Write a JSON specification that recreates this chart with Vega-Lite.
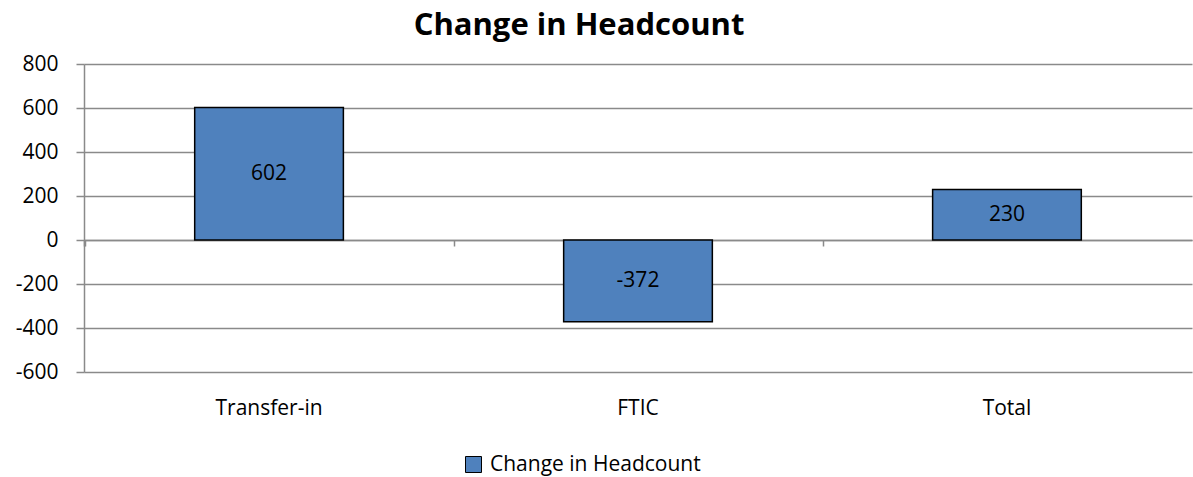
{
  "$schema": "https://vega.github.io/schema/vega-lite/v6.json",
  "width": 1108,
  "height": 308,
  "autosize": "none",
  "padding": {"left": 84, "top": 64, "right": 1, "bottom": 105},
  "background": "white",
  "config": {"view": {"stroke": null}, "font": "Open Sans"},
  "title": {"text": "Change in Headcount", "fontSize": 31, "fontWeight": "bold", "font": "Open Sans", "color": "black", "dx": -59, "offset": 11, "anchor": "middle"},
  "data": {"values": [
    {"category": "Transfer-in", "value": 602, "series": "Change in Headcount"},
    {"category": "FTIC", "value": -372, "series": "Change in Headcount"},
    {"category": "Total", "value": 230, "series": "Change in Headcount"}
  ]},
  "layer": [
    {
      "mark": {"type": "bar", "stroke": "black", "strokeWidth": 1.5},
      "encoding": {
        "x": {"field": "category", "type": "nominal", "sort": null,
          "scale": {"paddingInner": 0.597, "paddingOuter": 0.3},
          "axis": {"orient": "bottom", "title": null, "labelAngle": 0, "domain": false, "ticks": false, "grid": false, "labelPadding": 25, "labelFontSize": 21, "labelColor": "black", "labelFont": "Open Sans"}},
        "y": {"field": "value", "type": "quantitative",
          "scale": {"domain": [-600, 800], "nice": false, "zero": false},
          "axis": {"values": [-600, -400, -200, 0, 200, 400, 600, 800], "title": null, "grid": true, "gridColor": "#8a8a8a", "gridWidth": 1.5, "domainColor": "#8a8a8a", "domainWidth": 1.5, "tickColor": "#8a8a8a", "tickWidth": 1.5, "tickSize": 8, "labelPadding": 18, "labelFontSize": 21, "labelColor": "black", "labelFont": "Open Sans", "labelExpr": "replace(datum.label, '−', '-')"}},
        "color": {"field": "series", "type": "nominal",
          "scale": {"range": ["#4F81BD"]},
          "legend": {"orient": "none", "legendX": 379, "legendY": 390, "title": null, "symbolType": "square", "symbolSize": 256, "symbolStrokeColor": "black", "symbolStrokeWidth": 1, "labelFontSize": 21, "labelColor": "black", "labelFont": "Open Sans", "labelOffset": 6, "labelLimit": 0, "symbolOpacity": 1}}
      }
    },
    {
      "transform": [{"calculate": "datum.value/2", "as": "mid"}],
      "mark": {"type": "text", "fontSize": 21, "fill": "black", "font": "Open Sans"},
      "encoding": {
        "x": {"field": "category", "type": "nominal", "sort": null,
          "axis": {"orient": "bottom", "offset": -132, "labels": false, "bandPosition": 0, "tickExtra": true, "tickOffset": -110, "domainColor": "#8a8a8a", "domainWidth": 1.5, "tickColor": "#8a8a8a", "tickWidth": 1.5, "tickSize": 6, "title": null, "grid": false}},
        "y": {"field": "mid", "type": "quantitative", "axis": {"title": null}},
        "text": {"field": "value", "type": "nominal"}
      }
    }
  ],
  "resolve": {"axis": {"x": "independent"}}
}
